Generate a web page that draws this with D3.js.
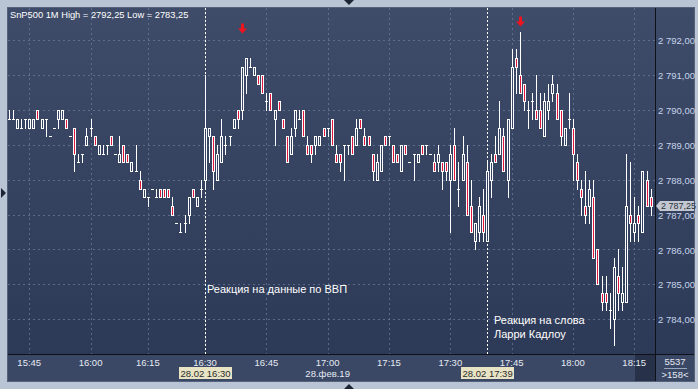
<!DOCTYPE html>
<html><head><meta charset="utf-8">
<script src="https://cdn.jsdelivr.net/npm/d3@7/dist/d3.min.js"></script>
<style>html,body{margin:0;padding:0;background:#b9c5d5;overflow:hidden}svg{display:block}</style>
</head><body>
<svg id="c" width="698" height="389"></svg>
<script>
// ---------- data ----------
const times = ("15:40 15:41 15:42 15:43 15:44 15:45 15:46 15:47 15:48 15:49 15:50 15:51 15:52 15:53 15:54 15:55 15:56 15:57 15:58 15:59 " +
"16:00 16:01 16:02 16:03 16:04 16:05 16:06 16:07 16:08 16:10 16:11 16:12 16:13 16:14 16:15 16:16 16:17 16:18 16:19 16:20 16:21 16:22 16:23 16:24 16:25 16:27 16:28 16:29 " +
"16:30 16:31 16:32 16:33 16:34 16:35 16:36 16:37 16:38 16:39 16:40 16:41 16:42 16:43 16:44 16:45 16:46 16:47 16:48 16:49 16:50 16:51 16:52 16:53 16:54 16:55 16:56 16:57 16:58 16:59 " +
"17:00 17:01 17:02 17:03 17:04 17:05 17:06 17:07 17:08 17:09 17:10 17:11 17:12 17:13 17:14 17:15 17:16 17:17 17:18 17:19 17:20 17:21 17:22 17:23 17:24 17:25 17:26 17:27 17:28 17:29 " +
"17:30 17:31 17:32 17:33 17:34 17:35 17:36 17:37 17:38 17:39 17:40 17:41 17:42 17:43 17:44 17:45 17:46 17:47 17:48 17:49 17:50 17:51 17:52 17:53 17:54 17:55 17:56 17:57 17:58 17:59 " +
"18:00 18:01 18:02 18:03 18:04 18:05 18:06 18:07 18:08 18:09 18:10 18:11 18:12 18:13 18:14 18:15 18:16 18:17 18:18 18:19").split(" ");

const open = [2789.75,2789.75,2789.5,2789.5,2789.75,2789.5,2789.5,2790,2789.5,2789.75,2789.25,2789.5,2789.75,2789.75,2789.75,2789.25,2789.5,2788.5,2788.75,2789,
2789.5,2789.25,2788.75,2788.75,2789,2789.25,2788.75,2788.5,2789,2788.75,2788.25,2788.25,2788,2787.5,2787.5,2787.75,2787.5,2787.75,2787.75,2787.75,
2787.25,2786.75,2786.5,2786.75,2787,2787.75,2787.25,2787.75,2788,2789.25,2789.25,2788,2788.5,2789,2789.25,2789.5,2790,2790,2791,2791.25,
2791,2791,2791,2790.25,2790.5,2789.75,2790.25,2789.75,2789.25,2788.75,2789.5,2789.75,2790,2789,2789,2789,2789,2789.5,2789.5,2789.75,
2788.75,2788.75,2789,2789,2789.25,2789,2789.75,2789.25,2789.25,2788.75,2788,2788.25,2789.25,2789.25,2789,2788.75,2788.25,2789,2788.5,2788.75,
2788.5,2789,2789,2788.75,2788.5,2788.5,2788.5,2788.5,2788,2789,2787.75,2788,2788.5,2787.25,2786.25,2786.5,2787,2786.25,2788,2788.75,
2788.75,2789.25,2788,2789.5,2791.5,2791,2790.75,2790,2790.25,2790,2790,2789.25,2790,2790.5,2790.5,2790,2789,2789.75,2789.5,2788.5,
2787.75,2787.25,2787.25,2787.5,2786,2784.75,2784.75,2784.25,2784,2785.25,2784.5,2784.5,2787,2786.5,2787,2786.5,2788,2787.5];
const high = [2790,2790,2789.75,2789.75,2789.75,2789.75,2789.75,2790,2789.75,2789.75,2789.25,2789.5,2790,2790,2789.75,2789.25,2789.5,2788.75,2788.75,2789.5,
2789.75,2789.25,2789,2789,2789,2789.25,2788.75,2789.25,2789,2788.75,2788.5,2789,2788.25,2787.75,2787.5,2787.75,2787.75,2787.75,2787.75,2787.75,
2787.5,2786.75,2786.75,2787,2787.5,2787.75,2787.5,2788,2791,2789.5,2789.25,2789,2789.75,2789.25,2789.25,2789.75,2790,2791.25,2791.5,2791.5,
2791.25,2791,2791,2790.5,2790.5,2790,2790.25,2789.75,2789.25,2789.5,2790,2790,2790,2789.25,2789,2789.25,2789.25,2789.5,2789.5,2789.75,
2789,2788.75,2789,2789,2789.25,2789.75,2789.75,2789.5,2789.25,2788.75,2788.75,2789,2789.25,2789.25,2789,2788.75,2789,2789,2788.5,2788.75,
2788.75,2789,2789,2788.75,2788.75,2789,2788.5,2788.5,2789,2789.5,2788.5,2789.25,2789,2788,2786.75,2787.5,2787.75,2788.5,2788.75,2789.25,
2790.25,2789.5,2789.75,2791.75,2791.75,2792.25,2790.75,2790.25,2790.5,2791,2790.5,2790.5,2790.75,2791,2790.75,2790,2789.5,2790.5,2789.75,2788.75,
2788,2788.25,2788,2788,2786,2785.25,2785.25,2784.75,2785.75,2786,2785.5,2788.75,2788.5,2787.5,2787.25,2788.25,2788.25,2787.75];
const low = [2789.75,2789.75,2789.5,2789.5,2789.5,2789.5,2789.5,2789.75,2789.5,2789.25,2789.25,2789.5,2789.5,2789.75,2789.5,2789.25,2788.25,2788.5,2788.5,2789,
2789.25,2789,2788.75,2788.75,2788.75,2789,2788.75,2788.5,2788.5,2788.5,2788.25,2788.25,2787.75,2787.5,2787.25,2787.75,2787.5,2787.5,2787.5,2787.5,
2787,2786.75,2786.5,2786.5,2786.75,2787.5,2787.25,2787.5,2787.75,2788.5,2787.75,2788,2788.5,2788.75,2789,2789.5,2789.5,2789.75,2790.5,2791.25,
2791,2790.75,2790.5,2790,2790,2789,2790,2789.5,2788.5,2788.75,2789.25,2789.75,2789.25,2788.75,2788.5,2788.75,2789,2789.25,2789.25,2789,
2788.5,2788.25,2788,2788.75,2788.75,2789,2789.5,2789,2789,2788,2788,2788.25,2789,2789,2788.5,2788.5,2788.25,2788.75,2788.5,2788,
2788.5,2788.75,2788.75,2788.75,2788.25,2788.25,2787.75,2788,2786.5,2788,2787.25,2788,2787,2786.5,2786,2786.25,2786.25,2786.25,2787.5,2788.5,
2788.75,2788.25,2787.5,2789.5,2790.5,2790.5,2790,2789.5,2789.75,2789.75,2789.5,2789.25,2789.75,2790.25,2789.75,2789,2789,2789.5,2788,2787.75,
2787,2786.75,2786.75,2785.75,2785,2784.25,2784.25,2783.75,2783.25,2784.25,2784.25,2784.5,2786.25,2786.25,2786.25,2786.5,2787.25,2787];
const close = [2789.75,2789.75,2789.75,2789.5,2789.75,2789.75,2789.75,2789.75,2789.75,2789.75,2789.25,2789.5,2790,2790,2789.5,2789.25,2788.75,2788.5,2788.75,2789.25,
2789.5,2789,2789,2788.75,2789,2789,2788.75,2788.75,2788.5,2788.5,2788.5,2788.25,2787.75,2787.75,2787.5,2787.75,2787.5,2787.5,2787.5,2787.5,
2787,2786.75,2786.5,2786.75,2787.5,2787.5,2787.5,2787.75,2789.5,2789.5,2788.25,2788.75,2789.25,2789,2789.25,2789.75,2789.75,2791.25,2791.5,2791.25,
2791.25,2790.75,2790.5,2790.25,2790,2790,2790,2789.5,2788.5,2789.25,2790,2789.75,2789.25,2788.75,2788.75,2789.25,2789.25,2789.25,2789.5,2789,
2788.5,2788.5,2789,2789,2788.75,2789.5,2789.5,2789,2789,2788.25,2788.5,2789,2789,2789.25,2788.5,2788.5,2789,2788.75,2788.5,2788.75,
2788.75,2788.75,2789,2788.75,2788.25,2788.75,2788.25,2788.25,2788.75,2788,2787.75,2788.75,2787,2786.5,2786.75,2787.25,2786.5,2788.25,2788.5,2788.5,
2789.5,2788.25,2789.75,2791.25,2791.25,2790.5,2790.25,2790,2790.25,2789.75,2789.5,2790.25,2790.25,2790.75,2789.75,2789.25,2789.5,2789.75,2788.75,2788,
2787.5,2787,2787.75,2785.75,2785,2784.5,2784.5,2784.25,2785.5,2784.75,2784.75,2787.25,2786.75,2786.75,2786.75,2788.25,2787.25,2787.25];

const priceTicks = [2784,2785,2786,2787,2788,2789,2790,2791,2792];
const timeTicks = ["15:45","16:00","16:15","16:30","16:45","17:00","17:15","17:30","17:45","18:00","18:15"];
const markerTimes = ["16:30","17:39"];
const markerLabels = ["28.02 16:30","28.02 17:39"];
const dayLabel = {t:"17:00", text:"28.фев.19"};
const noteTimes = ["16:30","17:39"];
const noteLines = [["Реакция на данные по ВВП"],["Реакция на слова","Ларри Кадлоу"]];
const notePrices = [2784.75, 2783.85];
const arrowTimes = ["16:39","17:47"];
const arrowPrices = [2792.2, 2792.4];
const volumeText = "5537";
const countText = ">" + times.length + "<";
const titleText = "SnP500 1M";

// ---------- layout ----------
const W = 698, H = 389;
const P = {l: 8, t: 8, r: 655, b: 354, axisR: 694, tb: 381};
const svg = d3.select("#c");
const FONT = "Liberation Sans, Arial, sans-serif";
const fmt = v => { const s = v.toFixed(2).replace(".", ","); const [a,b] = s.split(","); return a.replace(/\B(?=(\d{3})+(?!\d))/g, " ") + "," + b; };
const fmt2 = v => v.toFixed(2).replace(".", ",");

const x = d3.scalePoint().domain(times).range([8.8, 650.6]);
const y = d3.scaleLinear().domain([2784, 2792]).range([319.2, 40.4]);

const defs = svg.append("defs");
const g1 = defs.append("linearGradient").attr("id","bg").attr("gradientUnits","userSpaceOnUse")
  .attr("x1",0).attr("y1",P.t).attr("x2",0).attr("y2",P.b);
g1.append("stop").attr("offset","0").attr("stop-color","#3f4c69");
g1.append("stop").attr("offset","1").attr("stop-color","#2d3a57");
defs.append("clipPath").attr("id","plotclip").append("rect")
  .attr("x",P.l).attr("y",P.t).attr("width",P.r-P.l).attr("height",P.b-P.t);

svg.append("rect").attr("width",W).attr("height",H).attr("fill","#b9c5d5");
svg.append("rect").attr("x",P.l).attr("y",P.t).attr("width",P.axisR-P.l).attr("height",P.b-P.t).attr("fill","url(#bg)");
svg.append("rect").attr("x",P.l).attr("y",P.b).attr("width",P.axisR-P.l).attr("height",P.tb-P.b).attr("fill","#3a4866");
svg.append("rect").attr("x",P.l-0.5).attr("y",P.t-0.5).attr("width",P.axisR-P.l+1).attr("height",P.tb-P.t+1)
  .attr("fill","none").attr("stroke","#55627a");

// small UI triangles
svg.append("path").attr("d","M344,0 L354,0 L349,5 Z").attr("fill","#1d2433");
svg.append("path").attr("d","M344,389 L354,389 L349,384 Z").attr("fill","#1d2433");
svg.append("path").attr("d","M1,188 L6,193 L1,198 Z").attr("fill","#1d2433");

const plot = svg.append("g").attr("clip-path","url(#plotclip)");

// grid
plot.selectAll(".hg").data(priceTicks).join("line")
  .attr("x1",P.l).attr("x2",P.r).attr("y1",d=>Math.round(y(d))+0.5).attr("y2",d=>Math.round(y(d))+0.5)
  .attr("stroke","#6a7a98").attr("stroke-opacity",0.75).attr("stroke-dasharray","2,3");
plot.selectAll(".vg").data(timeTicks).join("line")
  .attr("y1",P.t).attr("y2",P.b).attr("x1",d=>Math.round(x(d))+0.5).attr("x2",d=>Math.round(x(d))+0.5)
  .attr("stroke","#6a7a98").attr("stroke-opacity",0.75).attr("stroke-dasharray","2,3");

// marker lines
plot.selectAll(".mk").data(markerTimes).join("line")
  .attr("y1",P.t).attr("y2",P.b).attr("x1",d=>Math.round(x(d))+0.5).attr("x2",d=>Math.round(x(d))+0.5)
  .attr("stroke","#ffffff").attr("stroke-dasharray","2,2");

// candles
const idx = d3.range(times.length);
const cg = plot.append("g").attr("shape-rendering","crispEdges");
idx.forEach(i => {
  const cx = Math.round(x(times[i]));
  const o = open[i], c = close[i];
  cg.append("line").attr("x1",cx+0.5).attr("x2",cx+0.5)
    .attr("y1",Math.round(y(high[i]))).attr("y2",Math.round(y(low[i]))+1).attr("stroke","#fff");
  if (o === c) {
    const yy = Math.round(y(o)) + 0.5;
    cg.append("line").attr("x1",cx-1).attr("x2",cx+2).attr("y1",yy).attr("y2",yy).attr("stroke","#fff");
  } else {
    const yt = Math.round(y(Math.max(o,c))), yb = Math.round(y(Math.min(o,c)));
    cg.append("rect").attr("x",cx-0.5).attr("y",yt+0.5).attr("width",2).attr("height",yb-yt)
      .attr("fill", c > o ? "url(#bg)" : "#e3163e").attr("stroke","#fff");
  }
});

// arrows
arrowTimes.forEach((t,k) => {
  const cx = Math.round(x(t)) + 0.5, ty = y(arrowPrices[k]);
  svg.append("path").attr("d",`M${cx-1.5},${ty-10} L${cx+1.5},${ty-10} L${cx+1.5},${ty-5} L${cx+4.5},${ty-5} L${cx},${ty} L${cx-4.5},${ty-5} L${cx-1.5},${ty-5} Z`)
    .attr("fill","#f0141e");
});

// notes
noteTimes.forEach((t,k) => {
  const nx = Math.round(x(t)) + 2 + 5*k;
  const tx = svg.append("text").attr("x", nx).attr("y", y(notePrices[k]))
    .attr("font-family",FONT).attr("font-size","11px").attr("fill","#ffffff");
  noteLines[k].forEach((ln,j) => tx.append("tspan").attr("x", nx).attr("dy", j ? 14 : 0).text(ln));
});

// title
const hi = d3.max(high), lo = d3.min(low);
svg.append("text").attr("x",10).attr("y",18).attr("font-family",FONT)
  .attr("font-size","9.3px").attr("fill","#ffffff")
  .text(`${titleText} High = ${fmt2(hi)} Low = ${fmt2(lo)}`);

// separators
svg.append("line").attr("x1",P.r+0.5).attr("x2",P.r+0.5).attr("y1",P.t).attr("y2",P.tb).attr("stroke","#0e1118");
svg.append("line").attr("x1",P.l).attr("x2",P.axisR).attr("y1",P.b+0.5).attr("y2",P.b+0.5).attr("stroke","#0e1118");

// price axis labels
svg.selectAll(".pl").data(priceTicks).join("text")
  .attr("x",658).attr("y",d=>y(d)+4).attr("font-family",FONT)
  .attr("font-size","9.5px").attr("fill","#c6d4ec").text(d=>fmt(d));

// current price box
const last = close[close.length-1], ly = Math.round(y(last));
svg.append("path").attr("d",`M656,${ly} L660,${ly-5} L694,${ly-5} L694,${ly+5} L660,${ly+5} Z`)
  .attr("fill","#c3c8d0");
svg.append("text").attr("x",661).attr("y",ly+3).attr("font-family",FONT)
  .attr("font-size","9px").attr("fill","#2a3242").text(fmt(last));

// time axis
svg.append("rect").attr("x",635).attr("y",P.b+1).attr("width",P.r-635).attr("height",P.tb-P.b-1).attr("fill","#27324a");
svg.selectAll(".tl").data(timeTicks).join("text")
  .attr("x",d=>x(d)).attr("y",366).attr("text-anchor","middle")
  .attr("font-family",FONT).attr("font-size","9.5px").attr("fill","#e6eaf2").text(d=>d);
markerTimes.forEach((t,k) => {
  const cx = x(t);
  svg.append("rect").attr("x",Math.round(cx)-26).attr("y",367).attr("width",53).attr("height",12).attr("fill","#e7e3c4");
  svg.append("text").attr("x",cx+0.5).attr("y",377).attr("text-anchor","middle")
    .attr("font-family",FONT).attr("font-size","9.5px").attr("fill","#2b2b2b").text(markerLabels[k]);
});
svg.append("text").attr("x",x(dayLabel.t)).attr("y",377).attr("text-anchor","middle")
  .attr("font-family",FONT).attr("font-size","9.5px").attr("fill","#e6eaf2").text(dayLabel.text);

// corner box
svg.append("text").attr("x",675).attr("y",365).attr("text-anchor","middle")
  .attr("font-family",FONT).attr("font-size","9.5px").attr("fill","#e6eaf2").text(volumeText);
svg.append("line").attr("x1",664).attr("x2",687).attr("y1",368.5).attr("y2",368.5).attr("stroke","#9aa6bb");
svg.append("text").attr("x",675).attr("y",378).attr("text-anchor","middle")
  .attr("font-family",FONT).attr("font-size","9.5px").attr("fill","#e6eaf2").text(countText);
</script>
</body></html>
